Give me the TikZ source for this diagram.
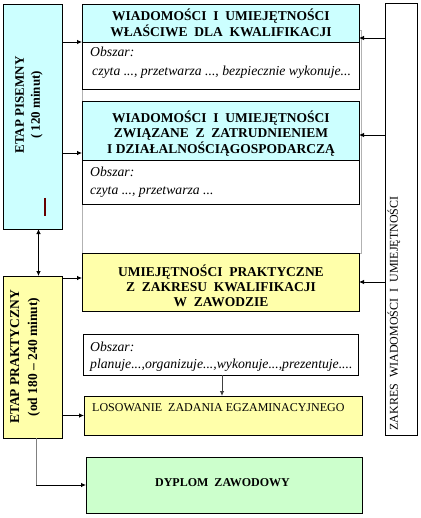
\documentclass[tikz,border=0pt]{standalone}
\usepackage{fontspec}
\setmainfont{Liberation Serif}
\usetikzlibrary{arrows.meta}
\definecolor{cy}{HTML}{CCFFFF}
\definecolor{ye}{HTML}{FFFFAA}
\definecolor{gn}{HTML}{CCFFCC}
\definecolor{dred}{HTML}{660000}
\tikzset{
  bx/.style={draw=black, line width=0.8pt, inner sep=0pt, outer sep=0pt},
  arr/.style={line width=0.8pt, -{Latex[length=5pt,width=4.5pt]}},
  hdr/.style={inner sep=0pt, align=center, font=\fontsize{13.5}{16}\bfseries\selectfont},
  obs/.style={inner sep=0pt, align=left, font=\fontsize{13.7}{19}\itshape\selectfont},
  plain/.style={inner sep=0pt, font=\fontsize{12}{14}\selectfont},
}
\begin{document}
\begin{tikzpicture}[x=1pt, y=-1pt]
\useasboundingbox (0,0) rectangle (420,518);
% grey frame behind the written-stage boxes
\node[draw=gray!60, line width=0.8pt, inner sep=0pt, minimum width=279pt, minimum height=223pt] (bg) at (221.5,141.5) {};
% left stage boxes
\node[bx, fill=cy, minimum width=59pt, minimum height=225pt] (pis) at (32.5,116.5) {};
\node[bx, fill=ye, minimum width=59pt, minimum height=162pt] (prak) at (32.5,357) {};
% written stage
\node[bx, fill=cy, minimum width=277pt, minimum height=38pt] (h1) at (220.5,23) {};
\node[bx, fill=white, minimum width=277pt, minimum height=47pt] (o1) at (220.5,65.5) {};
\node[bx, fill=cy, minimum width=277pt, minimum height=59pt] (h2) at (220.5,130.5) {};
\node[bx, fill=white, minimum width=277pt, minimum height=44pt] (o2) at (220.5,182) {};
% practical stage
\node[bx, fill=ye, minimum width=277pt, minimum height=58pt] (u) at (220.5,282) {};
\node[bx, fill=white, minimum width=275pt, minimum height=41pt] (o3) at (220.5,354.5) {};
\node[bx, fill=ye, minimum width=278pt, minimum height=39pt] (los) at (223,415.5) {};
\node[bx, fill=gn, minimum width=276pt, minimum height=56pt] (dyp) at (224,485) {};
% right scope box
\node[bx, fill=white, minimum width=32pt, minimum height=432pt] (zak) at (401,219) {};

% texts (anchor=base is the baseline of the last line)
\node[hdr, anchor=base] (t1) at (221,36.5) {WIADOMOŚCI\ \ I\ \ UMIEJĘTNOŚCI\\WŁAŚCIWE\ \ DLA\ \ KWALIFIKACJI};
\node[obs, anchor=base west] (to1) at (90,76) {Obszar:\\\hspace{2pt}czyta ..., przetwarza ..., bezpiecznie wykonuje...};
\node[hdr, anchor=base, font=\fontsize{13.5}{15.5}\bfseries\selectfont] (t2) at (221,153.5) {WIADOMOŚCI\ \ I\ \ UMIEJĘTNOŚCI\\ZWIĄZANE\ \ Z\ \ ZATRUDNIENIEM\\I DZIAŁALNOŚCIĄGOSPODARCZĄ};
\node[obs, anchor=base west, font=\fontsize{13.7}{17.5}\itshape\selectfont] (to2) at (90,194.5) {Obszar:\\czyta ..., przetwarza ...};
\node[hdr, anchor=base, font=\fontsize{13.5}{15}\bfseries\selectfont] (t3) at (221,306.5) {UMIEJĘTNOŚCI\ \ PRAKTYCZNE\\Z\ \ ZAKRESU\ \ KWALIFIKACJI\\W\ \ ZAWODZIE};
\node[obs, anchor=base west, font=\fontsize{13.7}{17}\itshape\selectfont] (to3) at (90,368) {Obszar:\\planuje...,organizuje...,wykonuje...,prezentuje....};
\node[plain, anchor=base west] (tl) at (92,411.5) {LOSOWANIE\ \ ZADANIA EGZAMINACYJNEGO};
\node[plain, anchor=base, font=\fontsize{12}{14}\bfseries\selectfont] (td) at (222.5,486.5) {DYPLOM\ \ ZAWODOWY};
\node[plain, rotate=90] (tz) at (394,313.5) {ZAKRES\ \ WIADOMOŚCI\ \ I\ \ UMIEJĘTNOŚCI};
\node[hdr, rotate=90, font=\fontsize{13}{16}\bfseries\selectfont] (tp) at (29,105) {ETAP PISEMNY\\( 120 minut)};
\node[hdr, rotate=90, font=\fontsize{13.5}{18}\bfseries\selectfont] (tk) at (25,357) {ETAP PRAKTYCZNY\\(od 180 – 240 minut)};

% small dark red mark
\draw[dred, line width=1.5pt] (45,198) -- (45,216);

% connectors
\draw[arr] (pis.east |- h1.south west) -- (h1.south west);
\coordinate (a2) at ([yshift=7pt]h2.south west);
\draw[arr] (pis.east |- a2) -- (a2);
\draw[{Latex[length=5pt,width=4.5pt]}-{Latex[length=5pt,width=4.5pt]}, line width=0.8pt] ([xshift=6pt]pis.south) -- ([xshift=6pt]prak.north);
\coordinate (a3) at ([yshift=-25pt]u.north west);
\draw[arr] (prak.east |- a3) -- (a3);
\draw[arr] (prak.east |- los.west) -- (los.west);
\coordinate (c1) at ([xshift=3.5pt]prak.south |- dyp.west);
\draw[gray, line width=0.8pt] ([xshift=3.5pt]prak.south) -- (c1);
\draw[arr] (c1) -- (dyp.west);
\draw[arr, black!75] ([xshift=1.5pt]o3.south) -- ([xshift=1.5pt]o3.south |- los.north);
\coordinate (z1) at ([yshift=4pt]h1.south east);
\draw[arr] (zak.west |- z1) -- (z1);
\coordinate (z2) at ([yshift=-4.5pt]h2.east);
\draw[arr] (zak.west |- z2) -- (z2);
\draw[arr] (zak.west |- u.east) -- (u.east);
\end{tikzpicture}
\end{document}
